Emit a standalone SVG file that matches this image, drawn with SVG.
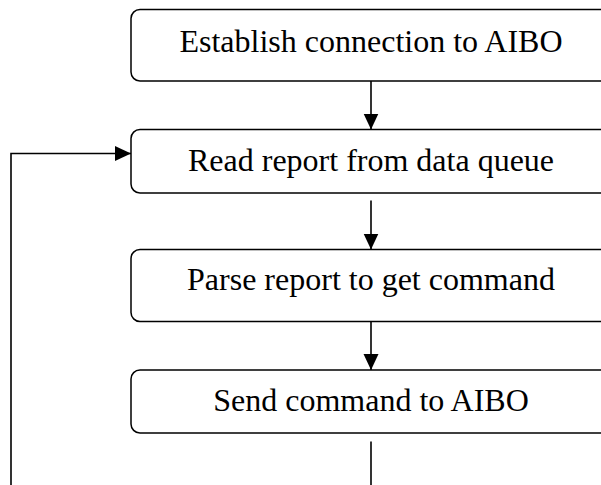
<svg xmlns="http://www.w3.org/2000/svg" width="601" height="485" viewBox="0 0 601 485">
<style>
.box{fill:#fff;stroke:#000;stroke-width:1.5}
.lbl{font-family:"Liberation Serif","Times New Roman",serif;font-size:32px;fill:#000;text-anchor:middle}
.conn{fill:none;stroke:#000;stroke-width:1.6}
</style>
<defs>
<marker id="ah" markerUnits="userSpaceOnUse" markerWidth="16" markerHeight="16" refX="16" refY="7.5" orient="auto">
<path d="M0,0 L16,7.5 L0,15 z" fill="#000"/>
</marker>
</defs>
<rect width="601" height="485" fill="#fff"/>
<g id="n1"><rect class="box" x="131" y="9.5" width="480" height="71.5" rx="9"/><text class="lbl" x="371" y="52">Establish connection to AIBO</text></g>
<g id="n2"><rect class="box" x="131" y="129.5" width="480" height="63.5" rx="9"/><text class="lbl" x="371" y="171">Read report from data queue</text></g>
<g id="n3"><rect class="box" x="131" y="249.5" width="480" height="72" rx="9"/><text class="lbl" x="371" y="290">Parse report to get command</text></g>
<g id="n4"><rect class="box" x="131" y="370" width="480" height="63" rx="9"/><text class="lbl" x="371" y="411">Send command to AIBO</text></g>
<g id="connectors">
<line class="conn" x1="371" y1="81" x2="371" y2="129.5" marker-end="url(#ah)"/>
<line class="conn" x1="371" y1="200.5" x2="371" y2="249.5" marker-end="url(#ah)"/>
<line class="conn" x1="371" y1="321.5" x2="371" y2="370" marker-end="url(#ah)"/>
<line class="conn" x1="371" y1="441.5" x2="371" y2="485"/>
<polyline class="conn" points="11,485 11,153.5 131,153.5" marker-end="url(#ah)"/>
</g>
</svg>
